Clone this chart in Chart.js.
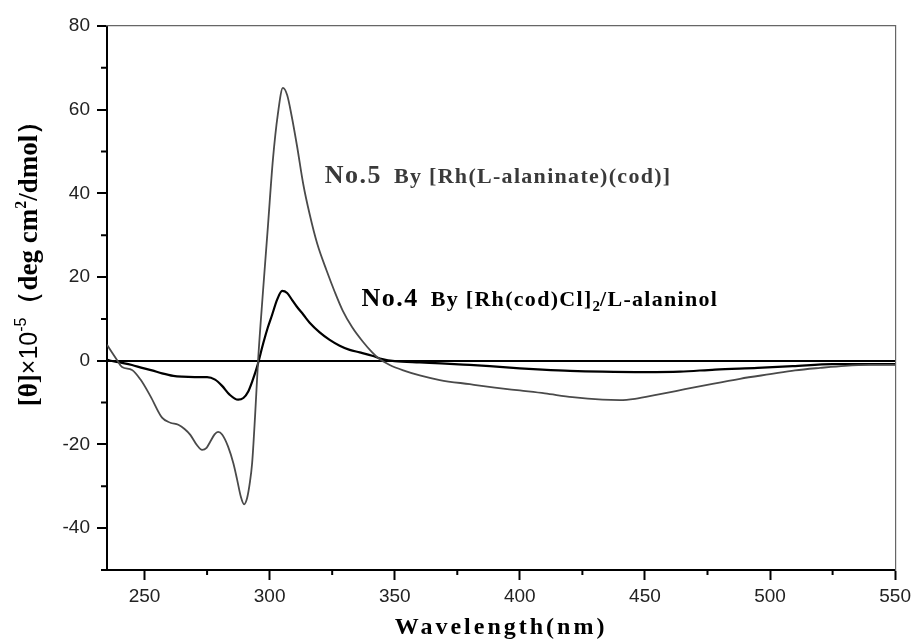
<!DOCTYPE html>
<html lang="en">
<head>
<meta charset="UTF-8">
<title>CD spectra</title>
<script src="https://cdn.jsdelivr.net/npm/chart.js"></script>
<style>
  html, body { margin: 0; padding: 0; background: #fff; }
  #wrap { width: 916px; height: 643px; position: relative; }
</style>
</head>
<body>
<div id="wrap"><canvas id="chartCanvas"></canvas></div>
<script>
// No.5 - By [Rh(L-alaninate)(cod)]  (grey curve)
const wavelength5 = [235, 237, 239, 241, 245, 248.4, 252.4, 257, 260.3, 263.5, 266, 268.3, 271, 273, 274.8, 276.3, 278, 279.4, 281, 283.4, 285.5, 287, 288.5, 289.8, 291, 292, 293, 294.2, 295.4, 297.3, 299.3, 301.3, 303.3, 305.3, 307, 308.8, 310.9, 313.5, 316, 319, 322.8, 326, 329.2, 333, 337.2, 341, 343.5, 348, 354, 360, 368, 380, 390, 400, 410, 421, 433, 440, 446, 455, 466, 477, 488, 500, 510, 520, 530, 540, 550];
const theta5 = [3.8, 2.0, 0.2, -1.5, -2.2, -4.5, -8.5, -13.6, -14.8, -15.3, -16.3, -17.7, -20.2, -21.3, -20.8, -19.3, -17.6, -17.0, -17.6, -20.5, -24.5, -28.4, -32.5, -34.3, -32.8, -29.5, -24.5, -13, 0.2, 16.2, 32, 48, 59, 65.2, 63.5, 58.5, 51.5, 42, 35, 28, 21.5, 16.5, 12, 8, 4.6, 2.0, 0.6, -1, -2.4, -3.5, -4.6, -5.6, -6.4, -7.1, -7.8, -8.7, -9.3, -9.4, -9.1, -8.1, -6.8, -5.5, -4.3, -3.2, -2.3, -1.7, -1.2, -1.0, -1.0];

// No.4 - By [Rh(cod)Cl]2/L-alaninol  (black curve)
const wavelength4 = [235, 236.5, 240, 245, 249, 253, 257, 261.5, 265, 270, 275, 278.2, 281, 284, 287.4, 289.5, 291.4, 293.3, 295, 297.5, 299.3, 301, 303, 305, 307, 309, 310.9, 313.5, 316, 320, 324, 328, 332, 336, 341, 345, 350, 360, 368.5, 380, 388, 400, 409, 420, 433, 450, 464, 478, 495, 509, 525, 535, 550];
const theta4 = [0.3, 0, -0.4, -1.0, -1.7, -2.3, -3.0, -3.6, -3.8, -3.9, -3.9, -4.5, -6.0, -8.1, -9.3, -8.9, -7.4, -4.5, -1.4, 4.3, 8.0, 11, 14.6, 16.7, 16.2, 14.5, 12.9, 11, 9.1, 6.8, 5.0, 3.6, 2.6, 2.0, 1.2, 0.4, -0.1, -0.4, -0.6, -1.0, -1.3, -1.8, -2.1, -2.4, -2.6, -2.7, -2.6, -2.1, -1.7, -1.3, -0.8, -0.8, -0.8];

const xTickValues = [250, 300, 350, 400, 450, 500, 550];
const xMinorTicks = [275, 325, 375, 425, 475, 525];
const yTickValues = [-40, -20, 0, 20, 40, 60, 80];
const yMinorTicks = [-50, -30, -10, 10, 30, 50, 70];

const xTitle = 'Wavelength(nm)';
const serif = "'Liberation Serif', 'Times New Roman', serif";
const sans = "'Liberation Sans', Arial, sans-serif";

// annotation text, anchored in data units
const notes = [
  { x: 322, y: 42.5, parts: [
    { t: 'No.5', size: 26, sp: 1.5, color: '#3a3a3a', gap: 12 },
    { t: 'By [Rh(L-alaninate)(cod)]', size: 22, sp: 1.3, color: '#3a3a3a' }
  ]},
  { x: 336.7, y: 13.1, parts: [
    { t: 'No.4', size: 26, sp: 1.5, color: '#000', gap: 12 },
    { t: 'By [Rh(cod)Cl]', size: 22, sp: 1.3, color: '#000' },
    { t: '2', size: 15, sp: 0, color: '#000', dy: 5 },
    { t: '/L-alaninol', size: 22, sp: 1.3, color: '#000' }
  ]}
];

const extras = {
  id: 'extras',
  afterDraw(chart) {
    const ctx = chart.ctx;
    const xs = chart.scales.x, ys = chart.scales.y;
    const area = chart.chartArea;
    ctx.save();
    ctx.strokeStyle = '#000';
    ctx.lineWidth = 2;
    // minor ticks
    ctx.beginPath();
    xMinorTicks.forEach(v => {
      const px = xs.getPixelForValue(v);
      ctx.moveTo(px, area.bottom);
      ctx.lineTo(px, area.bottom + 5);
    });
    yMinorTicks.forEach(v => {
      const py = ys.getPixelForValue(v);
      ctx.moveTo(area.left, py);
      ctx.lineTo(area.left - 6, py);
    });
    ctx.stroke();

    // x title
    ctx.fillStyle = '#000';
    ctx.font = 'bold 24px ' + serif;
    ctx.letterSpacing = '3px';
    ctx.textAlign = 'center';
    ctx.textBaseline = 'middle';
    ctx.fillText(xTitle, (area.left + area.right) / 2, 628);
    ctx.letterSpacing = '0px';

    // y title, rotated, with superscripts
    const ySegs = [
      { t: '[θ]', font: 'bold 27px ' + serif, dy: 0 },
      { t: '×10', font: '25px ' + sans, dy: 0 },
      { t: '-5', font: '16px ' + sans, dy: -11 },
      { t: '（deg cm', font: 'bold 27px ' + serif, dy: 0 },
      { t: '2', font: 'bold 16px ' + serif, dy: -11 },
      { t: '/dmol）', font: 'bold 27px ' + serif, dy: 0 }
    ];
    let total = 0;
    ySegs.forEach(s => { ctx.font = s.font; s.w = ctx.measureText(s.t).width; total += s.w; });
    ctx.translate(27, 257);
    ctx.rotate(-Math.PI / 2);
    ctx.textAlign = 'left';
    ctx.textBaseline = 'alphabetic';
    let cx = -total / 2;
    ySegs.forEach(s => {
      ctx.font = s.font;
      ctx.fillText(s.t, cx, 10 + s.dy);
      cx += s.w;
    });
    ctx.setTransform(1, 0, 0, 1, 0, 0);

    // annotations
    notes.forEach(n => {
      let px = xs.getPixelForValue(n.x);
      const py = ys.getPixelForValue(n.y);
      n.parts.forEach(p => {
        ctx.font = 'bold ' + p.size + 'px ' + serif;
        ctx.letterSpacing = p.sp + 'px';
        ctx.fillStyle = p.color;
        ctx.fillText(p.t, px, py + (p.dy || 0));
        px += ctx.measureText(p.t).width + (p.gap || 0);
      });
    });
    ctx.letterSpacing = '0px';
    ctx.restore();
  }
};

const ctx = document.getElementById('chartCanvas').getContext('2d');
new Chart(ctx, {
  type: 'line',
  data: {
    datasets: [{
      label: 'No.5',
      data: wavelength5.map((w, i) => ({ x: w, y: theta5[i] })),
      borderColor: '#4a4a4a',
      borderWidth: 1.8,
      pointRadius: 0,
      cubicInterpolationMode: 'monotone',
      fill: false
    }, {
      label: 'No.4',
      data: wavelength4.map((w, i) => ({ x: w, y: theta4[i] })),
      borderColor: '#000',
      borderWidth: 2.2,
      pointRadius: 0,
      cubicInterpolationMode: 'monotone',
      fill: false
    }]
  },
  options: {
    responsive: true,
    maintainAspectRatio: false,
    animation: false,
    layout: { padding: { top: 26, right: 18, left: 0, bottom: 0 } },
    plugins: { legend: { display: false }, tooltip: { enabled: false } },
    scales: {
      x: {
        type: 'linear', position: 'bottom', min: 235, max: 550,
        afterBuildTicks: s => { s.ticks = xTickValues.map(v => ({ value: v })); },
        afterFit: s => { s.height = 73; },
        ticks: { font: { family: sans, size: 19 }, color: '#222', padding: 5, maxRotation: 0 },
        grid: { drawOnChartArea: false, tickLength: 10, tickColor: '#000', tickWidth: 2 },
        border: { color: '#000', width: 2 }
      },
      y: {
        type: 'linear', position: 'left', min: -50, max: 80,
        afterBuildTicks: s => { s.ticks = yTickValues.map(v => ({ value: v })); },
        afterFit: s => { s.width = 107; },
        ticks: { font: { family: sans, size: 19 }, color: '#222', padding: 7 },
        grid: {
          color: c => (c.tick && c.tick.value === 0) ? '#000' : 'rgba(0,0,0,0)',
          lineWidth: 2, tickLength: 10, tickColor: '#000', tickWidth: 2
        },
        border: { color: '#000', width: 2 }
      },
      x2: {
        type: 'linear', position: 'top', min: 235, max: 550,
        afterFit: s => { s.height = 0; },
        ticks: { display: false },
        grid: { display: false, drawTicks: false },
        border: { color: '#666', width: 1.2 }
      },
      y2: {
        type: 'linear', position: 'right', min: -50, max: 80,
        afterFit: s => { s.width = 0; },
        ticks: { display: false },
        grid: { display: false, drawTicks: false },
        border: { color: '#666', width: 1.2 }
      }
    }
  },
  plugins: [extras]
});
</script>
</body>
</html>
